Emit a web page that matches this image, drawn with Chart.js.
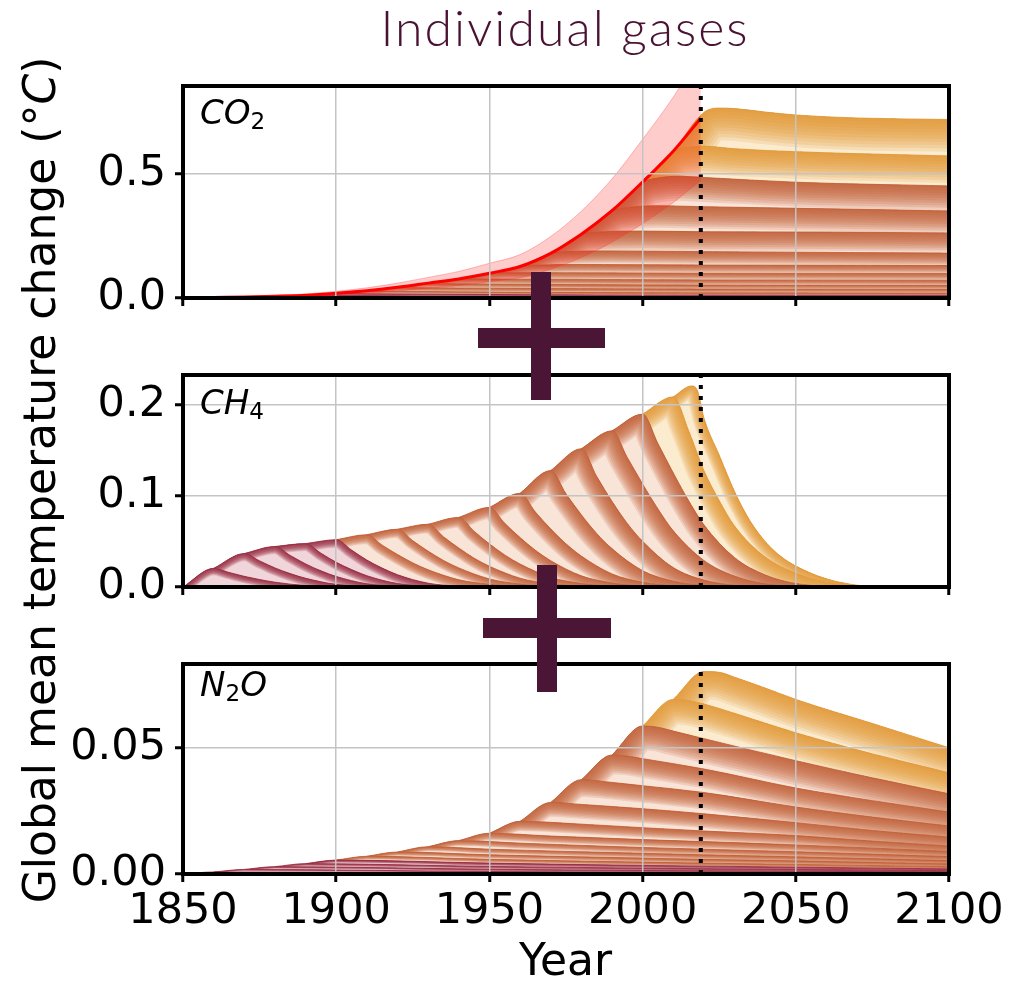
<!DOCTYPE html>
<html>
<head>
<meta charset="utf-8">
<script src="https://cdn.jsdelivr.net/npm/chart.js@4.4.1/dist/chart.umd.min.js"></script>
<style>
  html, body { margin: 0; padding: 0; background: #fff; }
  #wrap { position: relative; width: 1012px; height: 982px; overflow: hidden; font-family: "DejaVu Sans", sans-serif; }
  canvas { position: absolute; left: 0; }
  #title { position: absolute; left: 0; top: 2px; width: 1130px; text-align: center; font-family: Lato, "Open Sans", sans-serif; font-weight: 300; font-size: 50px; line-height: 50px; letter-spacing: 2px; color: #4a1232; }
  .gas { position: absolute; left: 200px; font-size: 34px; line-height: 34px; font-style: italic; color: #000; z-index: 5; }
  .gas sub { font-size: 0.68em; font-style: normal; vertical-align: -0.2em; line-height: 0; }
  #ylab { position: absolute; left: -460px; top: 458px; width: 1000px; height: 44px; line-height: 44px; font-size: 44px; text-align: center; transform: rotate(-90deg); }
  #xlab { position: absolute; left: 0; top: 938px; width: 1131px; text-align: center; font-size: 44px; line-height: 44px; }
  .bar { position: absolute; background: #4b1535; z-index: 6; }
</style>
</head>
<body>
<div id="wrap">
  <div id="title">Individual gases</div>
  <canvas id="c1" width="1012" height="232" style="top:78px"></canvas>
  <canvas id="c2" width="1012" height="232" style="top:367px"></canvas>
  <canvas id="c3" width="1012" height="288" style="top:656px"></canvas>
  <div class="gas" style="top:95px">CO<sub>2</sub></div>
  <div class="gas" style="top:385px">CH<sub>4</sub></div>
  <div class="gas" style="top:667px">N<sub>2</sub>O</div>
  <div id="ylab">Global mean temperature change (°<i>C</i>)</div>
  <div id="xlab">Year</div>
  <div class="bar" style="left:531px;top:272px;width:20px;height:128px"></div>
  <div class="bar" style="left:478px;top:328px;width:127px;height:20px"></div>
  <div class="bar" style="left:537px;top:565px;width:20px;height:127px"></div>
  <div class="bar" style="left:483px;top:618px;width:128px;height:20px"></div>
</div>
<script>
// shared axis
var xTicks = [1850, 1900, 1950, 2000, 2050, 2100];
var refYear = 2019;

// ---- CO2 ----
var co2Ticks = [0, 0.5];
var co2Top = 0.855;
var co2EnvYears = [1850,1860,1870,1880,1890,1900,1910,1920,1930,1940,1950,1960,1970,1980,1990,2000,2010,2020];
var co2EnvVals  = [0,.002,.004,.007,.011,.018,.028,.042,.058,.076,.099,.126,.179,.256,.35,.466,.59,.748];
var co2Tails = [
  [[1870,.0018],[1950,.001],[2020,.0006],[2100,.0005]],
  [[1880,.0037],[1950,.0022],[2020,.0015],[2100,.0014]],
  [[1890,.0065],[1950,.0042],[2020,.003],[2100,.0029]],
  [[1900,.0105],[1950,.0075],[2020,.006],[2100,.0058]],
  [[1910,.0172],[1950,.014],[2020,.0115],[2100,.011]],
  [[1920,.027],[1960,.023],[2020,.021],[2100,.02]],
  [[1930,.041],[1970,.038],[2020,.036],[2100,.035]],
  [[1940,.057],[1980,.054],[2020,.052],[2100,.051]],
  [[1945,.077],[1960,.076],[2020,.073],[2100,.072]],
  [[1955,.102],[1970,.102],[2020,.1],[2100,.099]],
  [[1965,.132],[1980,.135],[2020,.133],[2100,.131]],
  [[1975,.186],[1990,.19],[2020,.187],[2100,.181]],
  [[1985,.265],[2000,.27],[2020,.267],[2060,.266],[2100,.262]],
  [[1995,.364],[2005,.372],[2020,.368],[2060,.36],[2100,.351]],
  [[2005,.484],[2012,.491],[2020,.486],[2050,.467],[2100,.452]],
  [[2015,.607],[2020,.612],[2030,.602],[2050,.59],[2100,.573]],
  [[2025,.766],[2030,.764],[2040,.75],[2050,.738],[2070,.726],[2100,.72]]
];
var co2ObsYears = [1850,1860,1870,1880,1890,1900,1910,1920,1930,1940,1950,1960,1970,1980,1990,2000,2010,2019];
var co2ObsMid  = [0,.002,.004,.007,.011,.019,.029,.043,.06,.077,.1,.127,.18,.257,.352,.468,.592,.725];
var co2ObsHigh = [0,.003,.006,.01,.016,.027,.041,.06,.083,.107,.14,.175,.248,.35,.48,.64,.81,.99];
var co2ObsLow  = [0,.001,.003,.005,.007,.013,.019,.028,.039,.05,.066,.082,.116,.163,.225,.3,.385,.475];

// ---- CH4 ----
var ch4Ticks = [0, 0.1, 0.2];
var ch4Top = 0.233;
var ch4EnvYears = [1850,1860,1870,1880,1890,1900,1910,1920,1930,1940,1950,1960,1970,1980,1990,2000,2010,2016];
var ch4EnvVals  = [0,.0205,.0368,.0445,.0477,.052,.0575,.0635,.069,.0765,.0875,.103,.128,.152,.1716,.19,.209,.221];
var ch4Tails = [
  [[1865,.016],[1870,.0117],[1875,.0082],[1880,.0053],[1890,.0016],[1900,.0004],[1910,0],[2100,0]],
  [[1875,.0287],[1880,.021],[1885,.0147],[1890,.0096],[1900,.0029],[1910,.0007],[1920,0],[2100,0]],
  [[1885,.0347],[1890,.0254],[1895,.0178],[1900,.0116],[1910,.0036],[1920,.0009],[1930,0],[2100,0]],
  [[1895,.0372],[1900,.0272],[1905,.0191],[1910,.0124],[1920,.0038],[1930,.001],[1940,0],[2100,0]],
  [[1905,.0406],[1910,.0296],[1915,.0208],[1920,.0135],[1930,.0042],[1940,.001],[1950,0],[2100,0]],
  [[1915,.046],[1920,.0357],[1925,.0265],[1930,.019],[1940,.008],[1950,.0029],[1960,.0007],[1970,0],[2100,0]],
  [[1925,.0508],[1930,.0394],[1935,.0292],[1940,.021],[1950,.0089],[1960,.0032],[1970,.0008],[1980,0],[2100,0]],
  [[1935,.0552],[1940,.0428],[1945,.0317],[1950,.0228],[1960,.0097],[1970,.0035],[1980,.0008],[1990,0],[2100,0]],
  [[1945,.0612],[1950,.0474],[1955,.0352],[1960,.0252],[1970,.0107],[1980,.0038],[1990,.0009],[2000,0],[2100,0]],
  [[1955,.07],[1960,.0543],[1965,.0403],[1970,.0289],[1980,.0123],[1990,.0044],[2000,.001],[2010,0],[2100,0]],
  [[1965,.0824],[1970,.0639],[1975,.0474],[1980,.034],[1990,.0144],[2000,.0052],[2010,.0012],[2020,0],[2100,0]],
  [[1975,.1024],[1980,.0794],[1985,.0589],[1990,.0422],[2000,.0179],[2010,.0064],[2020,.0015],[2030,0],[2100,0]],
  [[1985,.1216],[1990,.0942],[1995,.0699],[2000,.0502],[2010,.0213],[2020,.0076],[2030,.0018],[2040,0],[2100,0]],
  [[1995,.1424],[2000,.1133],[2005,.0858],[2010,.0618],[2020,.0292],[2030,.012],[2040,.0034],[2050,.0007],[2060,0],[2100,0]],
  [[2005,.1577],[2010,.1254],[2015,.095],[2020,.0684],[2030,.0323],[2040,.0133],[2050,.0038],[2060,.0008],[2070,0],[2100,0]],
  [[2015,.172],[2020,.128],[2025,.095],[2030,.067],[2040,.033],[2050,.015],[2060,.005],[2070,.001],[2080,0],[2100,0]],
  [[2018,.215],[2020,.186],[2025,.145],[2030,.105],[2035,.073],[2040,.05],[2045,.034],[2050,.023],[2060,.009],[2070,.002],[2080,0],[2100,0]]
];

// ---- N2O ----
var n2oTicks = [0, 0.05];
var n2oTop = 0.083;
var n2oEnvYears = [1850,1860,1870,1880,1890,1900,1910,1920,1930,1940,1950,1960,1970,1980,1990,2000,2010,2020];
var n2oEnvVals  = [0,.0008,.0018,.0029,.0041,.0055,.007,.0087,.0108,.0132,.0161,.0208,.0283,.0373,.047,.0585,.069,.08];
var n2oTails = [
  [[1950,.0004],[2000,.0003],[2100,.0002]],
  [[1950,.001],[2000,.0007],[2050,.0005],[2100,.0004]],
  [[1950,.0019],[2000,.0014],[2050,.0011],[2100,.0008]],
  [[1950,.003],[2000,.0023],[2050,.0018],[2100,.0013]],
  [[1950,.0043],[2000,.0034],[2050,.0027],[2100,.002]],
  [[1950,.0058],[2000,.0047],[2020,.0043],[2050,.0038],[2100,.0029]],
  [[1950,.0076],[2000,.0063],[2020,.0058],[2050,.0052],[2100,.004]],
  [[1950,.0098],[2000,.0082],[2020,.0076],[2050,.0068],[2100,.0053]],
  [[1960,.0122],[2000,.0105],[2020,.0098],[2050,.0088],[2100,.0069]],
  [[1970,.015],[2000,.0136],[2020,.0128],[2050,.0115],[2100,.0089]],
  [[1980,.0197],[2000,.0183],[2020,.017],[2050,.0152],[2075,.013],[2100,.0111]],
  [[1980,.0275],[2000,.0258],[2020,.0238],[2050,.0203],[2075,.0172],[2100,.0146]],
  [[1990,.0362],[2000,.0349],[2020,.0322],[2050,.0265],[2075,.0225],[2100,.019]],
  [[1995,.0466],[2000,.0456],[2020,.0415],[2050,.034],[2075,.029],[2100,.0245]],
  [[2005,.058],[2010,.0565],[2020,.0535],[2050,.0448],[2075,.038],[2100,.0317]],
  [[2015,.0685],[2020,.0672],[2030,.0635],[2050,.0558],[2075,.0475],[2100,.04]],
  [[2025,.0797],[2030,.0778],[2040,.0735],[2050,.069],[2075,.0595],[2100,.0499]]
];

// colours for the three eras of emission decades
var eraColors = {
  early: { dark: [150, 35, 58],  pale: [240, 214, 218] },
  mid:   { dark: [192, 90, 48],  pale: [249, 228, 216] },
  late:  { dark: [224, 150, 50], pale: [251, 236, 208] }
};
function rgba(c, a) { return 'rgba(' + c[0] + ',' + c[1] + ',' + c[2] + ',' + a + ')'; }

function xy(years, vals) {
  return years.map(function(y, i){ return {x: y, y: vals[i]}; });
}

// one filled band per emission decade, stacked on the band below
function bandSets(envYears, envVals, tails, firstIdx) {
  return tails.map(function(tail, i){
    var pts = [{x: envYears[i], y: envVals[i]}, {x: envYears[i+1], y: envVals[i+1]}]
      .concat(tail.map(function(p){ return {x: p[0], y: p[1]}; }));
    var era = envYears[i] < 1900 ? eraColors.early : (envYears[i] < 2000 ? eraColors.mid : eraColors.late);
    return {
      data: pts,
      band: true,
      era: era,
      prevIdx: i === 0 ? -1 : firstIdx + i - 1,
      fill: i === 0 ? 'origin' : '-1',
      backgroundColor: rgba(era.pale, 1),
      borderColor: rgba(era.dark, 1),
      borderWidth: 0.8,
      pointRadius: 0,
      cubicInterpolationMode: 'monotone'
    };
  });
}

function refLine(top) {
  return {
    data: [{x: refYear, y: 0}, {x: refYear, y: top}],
    borderColor: '#000', borderWidth: 4, borderDash: [4, 7],
    pointRadius: 0, fill: false
  };
}

// darkens each band towards its top edge
var shadePlugin = {
  id: 'shade',
  afterDatasetDraw: function(chart, args) {
    var ds = chart.data.datasets[args.index];
    if (!ds.band) return;
    var ctx = chart.ctx, area = chart.chartArea;
    var line = args.meta.dataset;
    var pts = line.points;
    var prev = ds.prevIdx >= 0 ? chart.getDatasetMeta(ds.prevIdx).dataset : null;
    var y0 = chart.scales.y.getPixelForValue(0);
    var seg = {start: 0, end: pts.length - 1, loop: false};

    // thickness estimate = polygon area / top edge length
    var poly = pts.map(function(p){ return [p.x, p.y]; });
    if (prev) {
      var pp = prev.points;
      for (var j = pp.length - 1; j >= 1; j--) poly.push([pp[j].x, pp[j].y]);
    } else {
      poly.push([pts[pts.length-1].x, y0]); poly.push([pts[0].x, y0]);
    }
    var a = 0;
    for (var k = 0; k < poly.length; k++) {
      var p1 = poly[k], p2 = poly[(k+1) % poly.length];
      a += p1[0]*p2[1] - p2[0]*p1[1];
    }
    a = Math.abs(a) / 2;
    var len = 0;
    for (var m = 1; m < pts.length; m++) {
      if (Math.abs(pts[m].y - y0) < 0.5 && Math.abs(pts[m-1].y - y0) < 0.5) continue;
      len += Math.hypot(pts[m].x - pts[m-1].x, pts[m].y - pts[m-1].y);
    }
    var T = len > 0 ? a / len : 0;
    T = Math.max(1.5, Math.min(45, T));

    ctx.save();
    ctx.beginPath();
    ctx.rect(area.left, area.top, area.right - area.left, area.bottom - area.top);
    ctx.clip();
    ctx.beginPath();
    line.pathSegment(ctx, seg, {move: true});
    if (prev) {
      prev.pathSegment(ctx, {start: 1, end: prev.points.length - 1, loop: false}, {move: false, reverse: true});
    } else {
      ctx.lineTo(pts[pts.length-1].x, y0);
      ctx.lineTo(pts[0].x, y0);
    }
    ctx.closePath();
    ctx.clip();
    ctx.lineJoin = 'round';
    ctx.lineCap = 'round';
    var n = 10;
    for (var s = n; s >= 1; s--) {
      ctx.beginPath();
      line.pathSegment(ctx, seg, {move: true});
      ctx.lineWidth = 2 * T * s / n;
      ctx.strokeStyle = rgba(ds.era.dark, 0.17);
      ctx.stroke();
    }
    ctx.restore();
  }
};

var framePlugin = {
  id: 'frame',
  afterDraw: function(chart) {
    var ctx = chart.ctx, a = chart.chartArea;
    ctx.save();
    ctx.strokeStyle = '#000';
    ctx.lineWidth = 4;
    ctx.strokeRect(a.left, a.top, a.right - a.left, a.bottom - a.top);
    ctx.restore();
  }
};

Chart.defaults.font.family = "'DejaVu Sans', sans-serif";
Chart.defaults.font.size = 43;
Chart.defaults.color = '#000';

function makeChart(id, datasets, top, yTicks, dec, showX) {
  new Chart(document.getElementById(id), {
    type: 'line',
    data: { datasets: datasets },
    plugins: [shadePlugin, framePlugin],
    options: {
      responsive: false,
      animation: false,
      devicePixelRatio: 1,
      events: [],
      layout: { padding: { top: 8, right: 63, left: 0, bottom: 0 } },
      plugins: { legend: { display: false }, tooltip: { enabled: false } },
      scales: {
        x: {
          type: 'linear', min: 1850, max: 2100,
          afterBuildTicks: function(s){ s.ticks = xTicks.map(function(v){ return {value: v}; }); },
          afterFit: function(s){ s.height = showX ? 70 : 12; s.paddingLeft = 0; s.paddingRight = 0; },
          grid: { color: '#c4c4c4', lineWidth: 1.5, z: 1, tickColor: '#000', tickWidth: 3, tickLength: 8 },
          border: { display: false },
          ticks: { display: showX, padding: 4, maxRotation: 0, callback: function(v){ return String(v); } }
        },
        y: {
          min: 0, max: top,
          afterBuildTicks: function(s){ s.ticks = yTicks.map(function(v){ return {value: v}; }); },
          afterFit: function(s){ s.width = 183; s.paddingTop = 0; s.paddingBottom = 0; },
          grid: { color: '#c4c4c4', lineWidth: 1.5, z: 1, tickColor: '#000', tickWidth: 3, tickLength: 8 },
          border: { display: false },
          ticks: { padding: 9, callback: function(v){ return v.toFixed(dec); } }
        }
      }
    }
  });
}

// CO2 panel: ref line, observed central + range, then decade bands
var co2Sets = [
  refLine(co2Top),
  { data: xy(co2ObsYears, co2ObsMid), borderColor: '#ff0000', borderWidth: 3, pointRadius: 0, fill: false, cubicInterpolationMode: 'monotone' },
  { data: xy(co2ObsYears, co2ObsHigh), borderColor: 'rgba(255,60,60,0.35)', borderWidth: 1, pointRadius: 0, fill: '+1', backgroundColor: 'rgba(255,0,0,0.2)', cubicInterpolationMode: 'monotone' },
  { data: xy(co2ObsYears, co2ObsLow), borderColor: 'rgba(255,60,60,0.35)', borderWidth: 1, pointRadius: 0, fill: false, cubicInterpolationMode: 'monotone' }
].concat(bandSets(co2EnvYears, co2EnvVals, co2Tails, 4));
makeChart('c1', co2Sets, co2Top, co2Ticks, 1, false);

var ch4Sets = [refLine(ch4Top)].concat(bandSets(ch4EnvYears, ch4EnvVals, ch4Tails, 1));
makeChart('c2', ch4Sets, ch4Top, ch4Ticks, 1, false);

var n2oSets = [refLine(n2oTop)].concat(bandSets(n2oEnvYears, n2oEnvVals, n2oTails, 1));
makeChart('c3', n2oSets, n2oTop, n2oTicks, 2, true);
</script>
</body>
</html>
